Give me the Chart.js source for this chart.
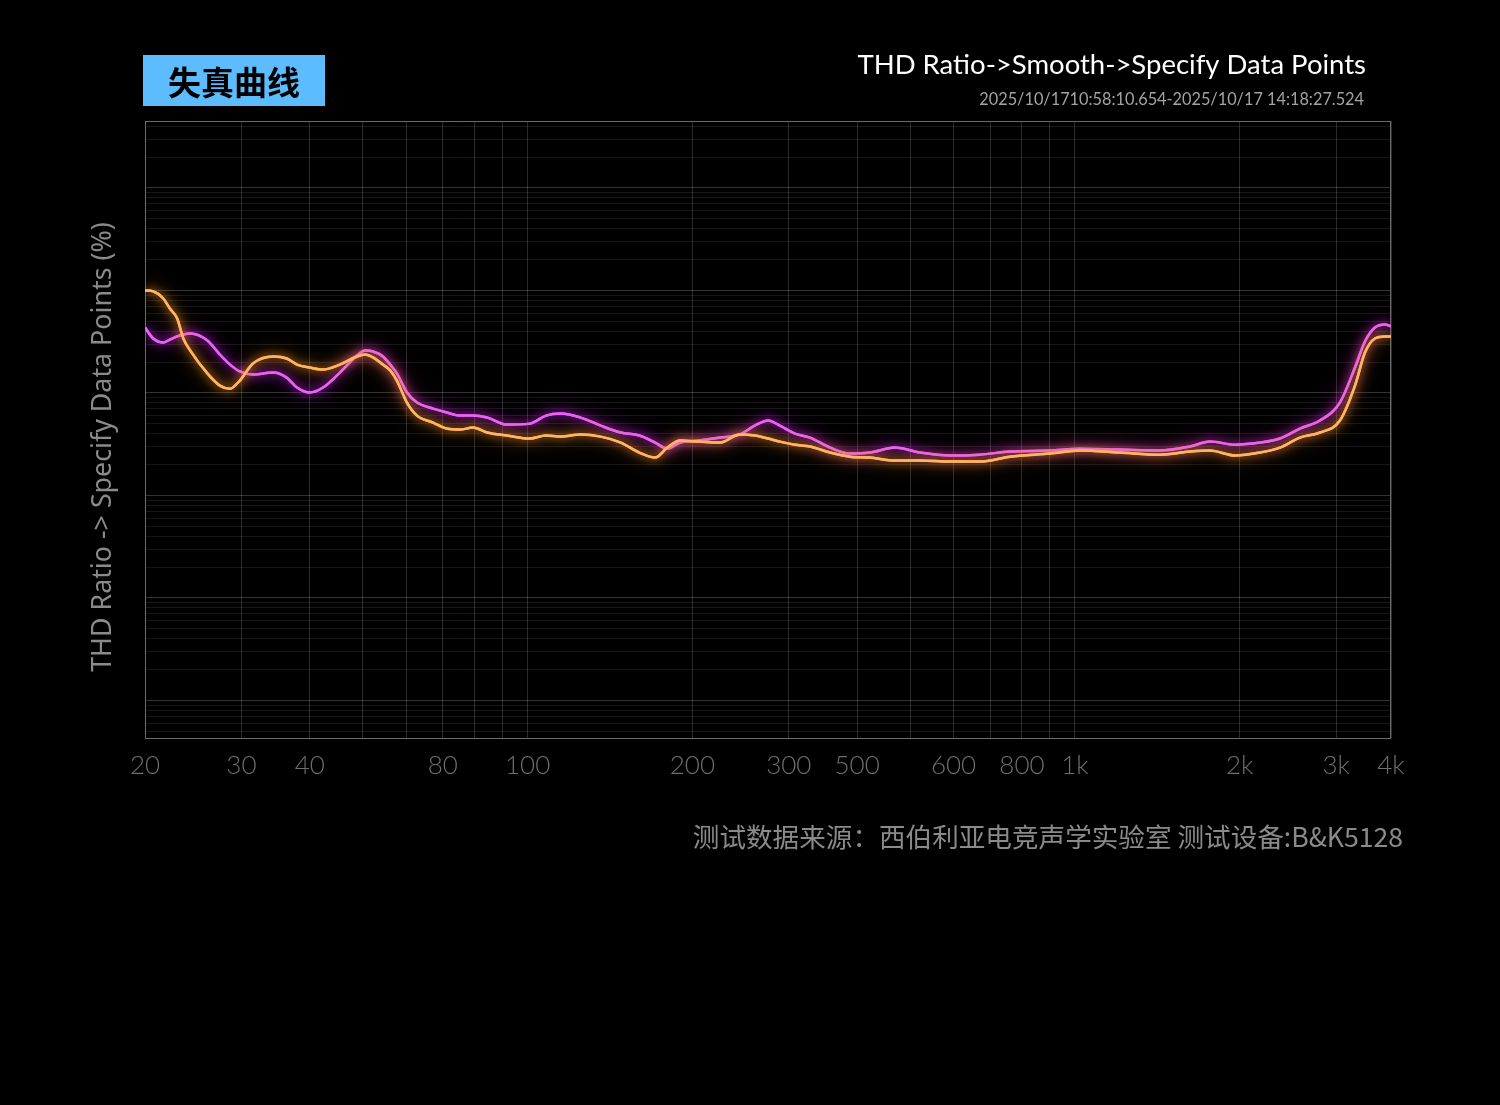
<!DOCTYPE html>
<html>
<head>
<meta charset="utf-8">
<script src="https://cdn.jsdelivr.net/npm/chart.js@4.4.1/dist/chart.umd.min.js"></script>
<style>
  html, body { margin: 0; padding: 0; background: #000; }
  canvas { display: block; }
</style>
</head>
<body>
<canvas id="thdChart" width="1500" height="1105"></canvas>
<script>
// frequency (Hz) of each read point
const freqs = [20, 20.7, 21.6, 22.2, 22.9, 23.5, 24.2, 26.0, 27.4, 28.6, 29.8, 31.5, 34.3, 36.3, 37.9,
  40.0, 42.3, 45.4, 48.8, 50.5, 52.2, 54.4, 56.1, 57.7, 60.2, 62.8, 67.2, 71.2, 75.2, 79.5, 84.3, 91.7,
  101, 108, 115, 125, 136, 148, 160, 171, 180, 190, 206, 225, 244, 260, 275, 289, 308, 328, 357, 388,
  422, 469, 521, 591, 670, 761, 900, 1021, 1208, 1429, 1622, 1764, 1960, 2177, 2369, 2576, 2803, 3048,
  3248, 3387, 3532, 3684, 3779];

// THD (%) - orange curve
const thdOrange = [1.00, 0.978, 0.835, 0.667, 0.533, 0.340, 0.259, 0.155, 0.118, 0.110, 0.132, 0.194, 0.227, 0.217, 0.189,
  0.177, 0.169, 0.189, 0.227, 0.237, 0.222, 0.189, 0.166, 0.132, 0.0806, 0.0601, 0.0514, 0.0449, 0.0439, 0.0459, 0.0411, 0.0384,
  0.0359, 0.0384, 0.0375, 0.0393, 0.0375, 0.0328, 0.0262, 0.0234, 0.0293, 0.0343, 0.0335, 0.0328, 0.0393, 0.0384, 0.0359, 0.0335, 0.0313, 0.0300, 0.0262, 0.0239,
  0.0234, 0.0219, 0.0219, 0.0214, 0.0214, 0.0239, 0.0256, 0.0274, 0.0262, 0.0250, 0.0268, 0.0274, 0.0245, 0.0262, 0.0293, 0.0367, 0.0411, 0.0538,
  0.118, 0.248, 0.340, 0.356, 0.356];

// THD (%) - magenta curve
const thdPurple = [0.435, 0.340, 0.311, 0.332, 0.356, 0.372, 0.380, 0.325, 0.237, 0.189, 0.162, 0.151, 0.158, 0.141, 0.113,
  0.101, 0.113, 0.158, 0.232, 0.259, 0.254, 0.227, 0.189, 0.155, 0.101, 0.0806, 0.0704, 0.0644, 0.0601, 0.0601, 0.0575, 0.0491,
  0.0502, 0.0601, 0.0629, 0.0575, 0.0480, 0.0411, 0.0384, 0.0328, 0.0286, 0.0328, 0.0343, 0.0367, 0.0393, 0.0480, 0.0538, 0.0480, 0.0401, 0.0367, 0.0293, 0.0256,
  0.0262, 0.0293, 0.0262, 0.0245, 0.0250, 0.0268, 0.0274, 0.0286, 0.0280, 0.0274, 0.0300, 0.0335, 0.0313, 0.0328, 0.0359, 0.0449, 0.0538, 0.0806,
  0.177, 0.318, 0.435, 0.466, 0.445];

// x axis labels as printed on the reference, and where they sit
const xTickVals = [20, 30, 40, 70, 100, 200, 300, 400, 600, 800, 1000, 2000, 3000, 3779];
const xTickText = ["20", "30", "40", "80", "100", "200", "300", "500", "600", "800", "1k", "2k", "3k", "4k"];
const xGridVals = [20, 30, 40, 50, 60, 70, 80, 90, 100, 200, 300, 400, 500, 600, 700, 800, 900, 1000, 2000, 3000, 3779];

const X_MIN = 20, X_MAX = 3779;
const Y_MIN = 0.000043, Y_MAX = 45;

const LATIN = "Lato, 'Noto Sans', sans-serif";
const CJK = "'Noto Sans CJK SC', 'Noto Sans', sans-serif";

// soft glow under each line: one extra blurred pass, then the normal line (also blurred)
const glow = {
  id: "glow",
  beforeDatasetDraw(chart, args) {
    const ctx = chart.ctx, a = chart.chartArea;
    const ds = chart.data.datasets[args.index];
    ctx.save();
    ctx.beginPath();
    ctx.rect(a.left, a.top, a.right - a.left, a.bottom - a.top);
    ctx.clip();
    ctx.shadowColor = ds.glowColor;
    ctx.shadowBlur = 18;
    args.meta.dataset.draw(ctx, a);
    ctx.restore();
    ctx.save();
    ctx.shadowColor = ds.glowColor;
    ctx.shadowBlur = 8;
  },
  afterDatasetDraw(chart) {
    chart.ctx.restore();
  }
};

const frame = {
  id: "frame",
  beforeDraw(chart) {
    const ctx = chart.ctx;
    ctx.save();
    ctx.fillStyle = "#000";
    ctx.fillRect(0, 0, chart.width, chart.height);
    ctx.restore();
  },
  beforeDatasetsDraw(chart) {
    const a = chart.chartArea, ctx = chart.ctx;
    ctx.save();
    ctx.strokeStyle = "#6b6b6b";
    ctx.lineWidth = 1;
    ctx.strokeRect(a.left + 0.5, a.top + 0.5, a.right - a.left - 1, a.bottom - a.top);
    ctx.restore();
  },
  afterDraw(chart) {
    const ctx = chart.ctx;
    ctx.save();

    // tag box
    ctx.fillStyle = "#5cbcfd";
    ctx.fillRect(143, 55, 182, 51);
    ctx.fillStyle = "#000";
    ctx.font = "700 33px " + CJK;
    ctx.textAlign = "center";
    ctx.textBaseline = "middle";
    ctx.fillText("失真曲线", 234, 82);

    // titles top right
    ctx.textAlign = "right";
    ctx.fillStyle = "#ffffff";
    ctx.font = "400 27.5px " + LATIN;
    ctx.fillText("THD Ratio->Smooth->Specify Data Points", 1366, 65);
    ctx.fillStyle = "#a3a3a3";
    ctx.font = "400 16.3px " + LATIN;
    ctx.fillText("2025/10/1710:58:10.654-2025/10/17 14:18:27.524", 1364, 100);

    // footer
    ctx.fillStyle = "#8a8a8a";
    ctx.font = "400 26.6px " + CJK;
    ctx.fillText("测试数据来源：西伯利亚电竞声学实验室 测试设备:B&K5128", 1403, 837);

    // y axis title
    ctx.translate(103, 447);
    ctx.rotate(-Math.PI / 2);
    ctx.textAlign = "center";
    ctx.fillStyle = "#8a8a8a";
    ctx.font = "400 26.8px 'Noto Sans', sans-serif";
    ctx.fillText("THD Ratio -> Specify Data Points (%)", 0, 0);
    ctx.restore();
  }
};

const ctx = document.getElementById("thdChart").getContext("2d");

const thdChart = new Chart(ctx, {
  type: "line",
  data: {
    datasets: [{
      label: "orange",
      data: freqs.map((f, i) => ({ x: f, y: thdOrange[i] })),
      borderColor: "#ffb462",
      glowColor: "rgba(255,145,30,1)",
      borderWidth: 2.5,
      pointRadius: 0,
      cubicInterpolationMode: "monotone"
    }, {
      label: "magenta",
      data: freqs.map((f, i) => ({ x: f, y: thdPurple[i] })),
      borderColor: "#e862f7",
      glowColor: "rgba(195,30,230,1)",
      borderWidth: 2.5,
      pointRadius: 0,
      cubicInterpolationMode: "monotone"
    }]
  },
  options: {
    responsive: false,
    animation: false,
    layout: { padding: { left: 145, right: 109, top: 121, bottom: 317 } },
    plugins: { legend: { display: false }, tooltip: { enabled: false } },
    scales: {
      x: {
        type: "logarithmic",
        min: X_MIN,
        max: X_MAX,
        afterBuildTicks: (scale) => { scale.ticks = xGridVals.map(v => ({ value: v })); },
        afterFit: (scale) => { scale.height = 50; },
        grid: { color: "rgba(255,255,255,0.17)", drawTicks: false },
        border: { display: false },
        ticks: {
          autoSkip: false,
          maxRotation: 0,
          padding: 12,
          color: "#6f6f6f",
          font: { family: LATIN, size: 26, weight: 300 },
          callback: (v) => {
            const i = xTickVals.indexOf(v);
            return i >= 0 ? xTickText[i] : "";
          }
        }
      },
      y: {
        type: "logarithmic",
        min: Y_MIN,
        max: Y_MAX,
        afterBuildTicks: (scale) => {
          const t = [];
          for (let e = -5; e <= 1; e++) {
            for (let m = 1; m <= 9; m++) {
              const v = m * Math.pow(10, e);
              if (v >= Y_MIN && v <= Y_MAX) t.push({ value: v, major: m === 1 });
            }
          }
          scale.ticks = t;
        },
        afterFit: (scale) => { scale.width = 0; },
        grid: {
          drawTicks: false,
          color: (c) => c.tick && c.tick.major ? "rgba(255,255,255,0.2)" : "rgba(255,255,255,0.09)"
        },
        border: { display: false },
        ticks: { display: false }
      }
    }
  },
  plugins: [frame, glow]
});
</script>
</body>
</html>
